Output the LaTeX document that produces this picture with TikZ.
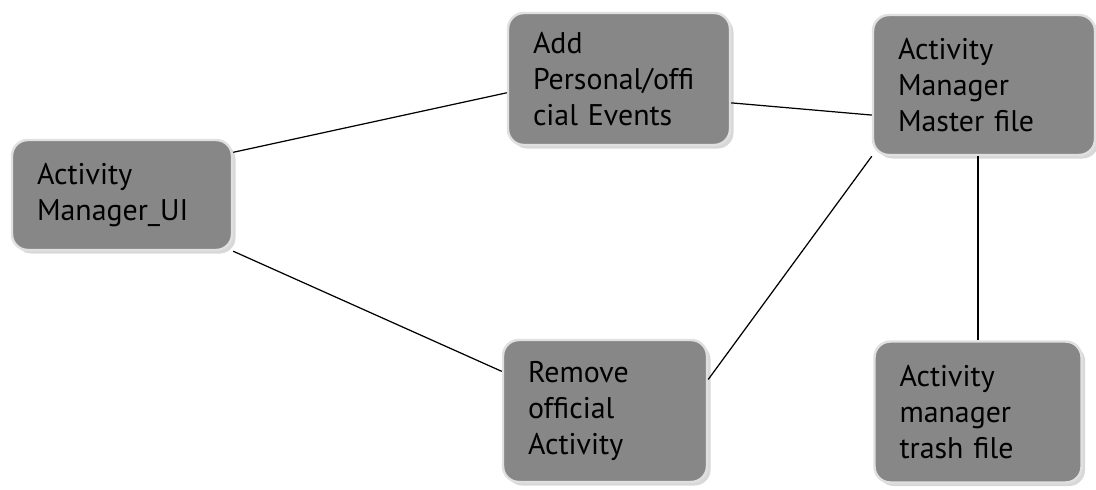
\documentclass[tikz,border=0pt]{standalone}
\usepackage{fontspec}
\setmainfont{PT Sans}
\usetikzlibrary{shadows}

\tikzset{
  box/.style={draw=black!12, line width=1.4pt, fill=black!47, rounded corners=9pt,
    align=left, inner xsep=0.5cm, inner ysep=0pt,
    font=\fontsize{17}{20.5}\selectfont,
    drop shadow={fill=black!30, shadow xshift=0.07cm, shadow yshift=-0.07cm}},
  link/.style={line width=0.7pt, black}
}

\begin{document}
\begin{tikzpicture}
	\useasboundingbox (0,0) rectangle (21.92,-9.78);
	
	% boxes
	\node[box, text width=3.4cm, minimum height=2.2cm] (ui) at (2.44,-3.9) {Activity\\Manager\_UI};
	\node[box, text width=3.44cm, minimum height=2.64cm] (add) at (12.38,-1.58) {Add\\Personal/offi\\cial Events};
	\node[box, text width=3.44cm, minimum height=2.8cm] (master) at (19.68,-1.7) {Activity\\Manager\\Master file};
	\node[box, text width=3.08cm, minimum height=2.84cm] (remove) at (12.1,-8.22) {Remove\\official\\Activity};
	\node[box, text width=3.14cm, minimum height=2.82cm] (trash) at (19.56,-8.24) {Activity\\manager\\trash file};
	
	% links
	\draw[link] (ui.21) -- (add.187);
	\draw[link] (ui.south east) -- (remove.159);
	\draw[link] (add.-12) -- (master.195);
	\draw[link] (master.south west) -- (remove.17);
	\draw[link] (trash.north |- master.south) -- (trash.north);
\end{tikzpicture}
\end{document}
